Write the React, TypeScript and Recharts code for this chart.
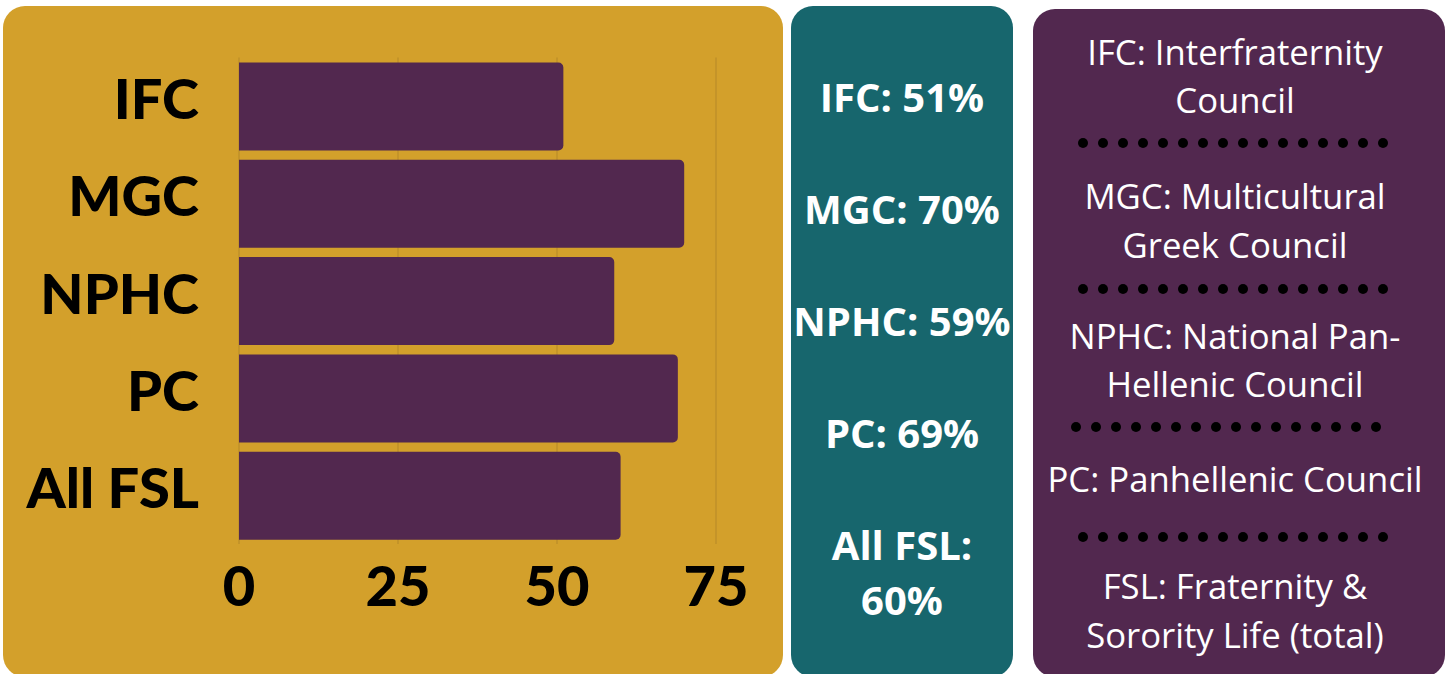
import React from "react";
import { BarChart, Bar, XAxis, YAxis, CartesianGrid } from "recharts";

const councils = ["IFC", "MGC", "NPHC", "PC", "All FSL"];
const rates = [51, 70, 59, 69, 60];
const xTicks = [0, 25, 50, 75];

const definitions = [
  ["IFC: Interfraternity", "Council"],
  ["MGC: Multicultural", "Greek Council"],
  ["NPHC: National Pan-", "Hellenic Council"],
  ["PC: Panhellenic Council"],
  ["FSL: Fraternity &", "Sorority Life (total)"],
];

// layout only: cap-centre y of each definition's first line, and dot rows
const defTops = [52, 196.5, 336, 479, 586.5];
const dotRows = [
  { y: 143, x: 1083 },
  { y: 289, x: 1083 },
  { y: 427, x: 1076 },
  { y: 537, x: 1083 },
];
const DOTS = 16;

const GOLD = "#D3A02B";
const TEAL = "#17666D";
const PURPLE = "#52284F";

const data = councils.map((name, i) => ({ name, rate: rates[i] }));

const axisFont = {
  fill: "#000",
  fontFamily: "Lato, sans-serif",
  fontWeight: 900,
  fontSize: 56,
};

export default function App() {
  return (
    <div
      style={{
        position: "absolute",
        left: 0,
        top: 0,
        width: 1447,
        height: 674,
        background: "#fff",
        overflow: "hidden",
      }}
    >
      {/* gold chart panel */}
      <div
        style={{
          position: "absolute",
          left: 3,
          top: 6,
          width: 780,
          height: 671,
          background: GOLD,
          borderRadius: 22,
        }}
      />
      <div style={{ position: "absolute", left: 0, top: 0 }}>
        <BarChart
          width={783}
          height={674}
          data={data}
          layout="vertical"
          margin={{ top: 57.5, right: 67, bottom: 0, left: 0 }}
        >
          <CartesianGrid horizontal={false} stroke="#BF912A" strokeWidth={1.5} />
          <XAxis
            type="number"
            domain={[0, 75]}
            ticks={xTicks}
            axisLine={false}
            tickLine={false}
            tickSize={0}
            tickMargin={22}
            height={130}
            tick={axisFont}
            interval={0}
          />
          <YAxis
            type="category"
            dataKey="name"
            width={239}
            axisLine={false}
            tickLine={false}
            tickSize={0}
            tickMargin={40}
            tick={{ ...axisFont, dy: -7 }}
            interval={0}
          />
          <Bar
            dataKey="rate"
            fill={PURPLE}
            barSize={88}
            radius={[0, 5, 5, 0]}
            isAnimationActive={false}
          />
        </BarChart>
      </div>

      {/* teal percentages panel */}
      <div
        style={{
          position: "absolute",
          left: 791,
          top: 6,
          width: 222,
          height: 671,
          background: TEAL,
          borderRadius: 22,
          paddingTop: 62.8,
          boxSizing: "border-box",
          fontFamily: "'Open Sans', sans-serif",
          fontWeight: 700,
          fontSize: 40,
          lineHeight: "55px",
          color: "#fff",
          textAlign: "center",
        }}
      >
        {councils.map((c, i) => (
          <div key={c} style={{ height: 112 }}>
            {c}: {rates[i]}%
          </div>
        ))}
      </div>

      {/* purple definitions panel */}
      <div
        style={{
          position: "absolute",
          left: 1033,
          top: 9,
          width: 412,
          height: 668,
          background: PURPLE,
          borderRadius: 22,
        }}
      />
      {definitions.map((lines, i) => (
        <div
          key={i}
          style={{
            position: "absolute",
            left: 1029,
            width: 412,
            top: defTops[i] - 24.5,
            fontFamily: "'Open Sans', sans-serif",
            fontSize: 34.7,
            lineHeight: "48.5px",
            color: "#fff",
            textAlign: "center",
            whiteSpace: "nowrap",
          }}
        >
          {lines.map((l) => (
            <div key={l}>{l}</div>
          ))}
        </div>
      ))}
      {dotRows.map((r, i) => (
        <div
          key={i}
          style={{
            position: "absolute",
            left: r.x - 5,
            top: r.y - 5,
            display: "flex",
            gap: 10,
          }}
        >
          {Array.from({ length: DOTS }).map((_, j) => (
            <div
              key={j}
              style={{ width: 10, height: 10, borderRadius: 5, background: "#000" }}
            />
          ))}
        </div>
      ))}
    </div>
  );
}
